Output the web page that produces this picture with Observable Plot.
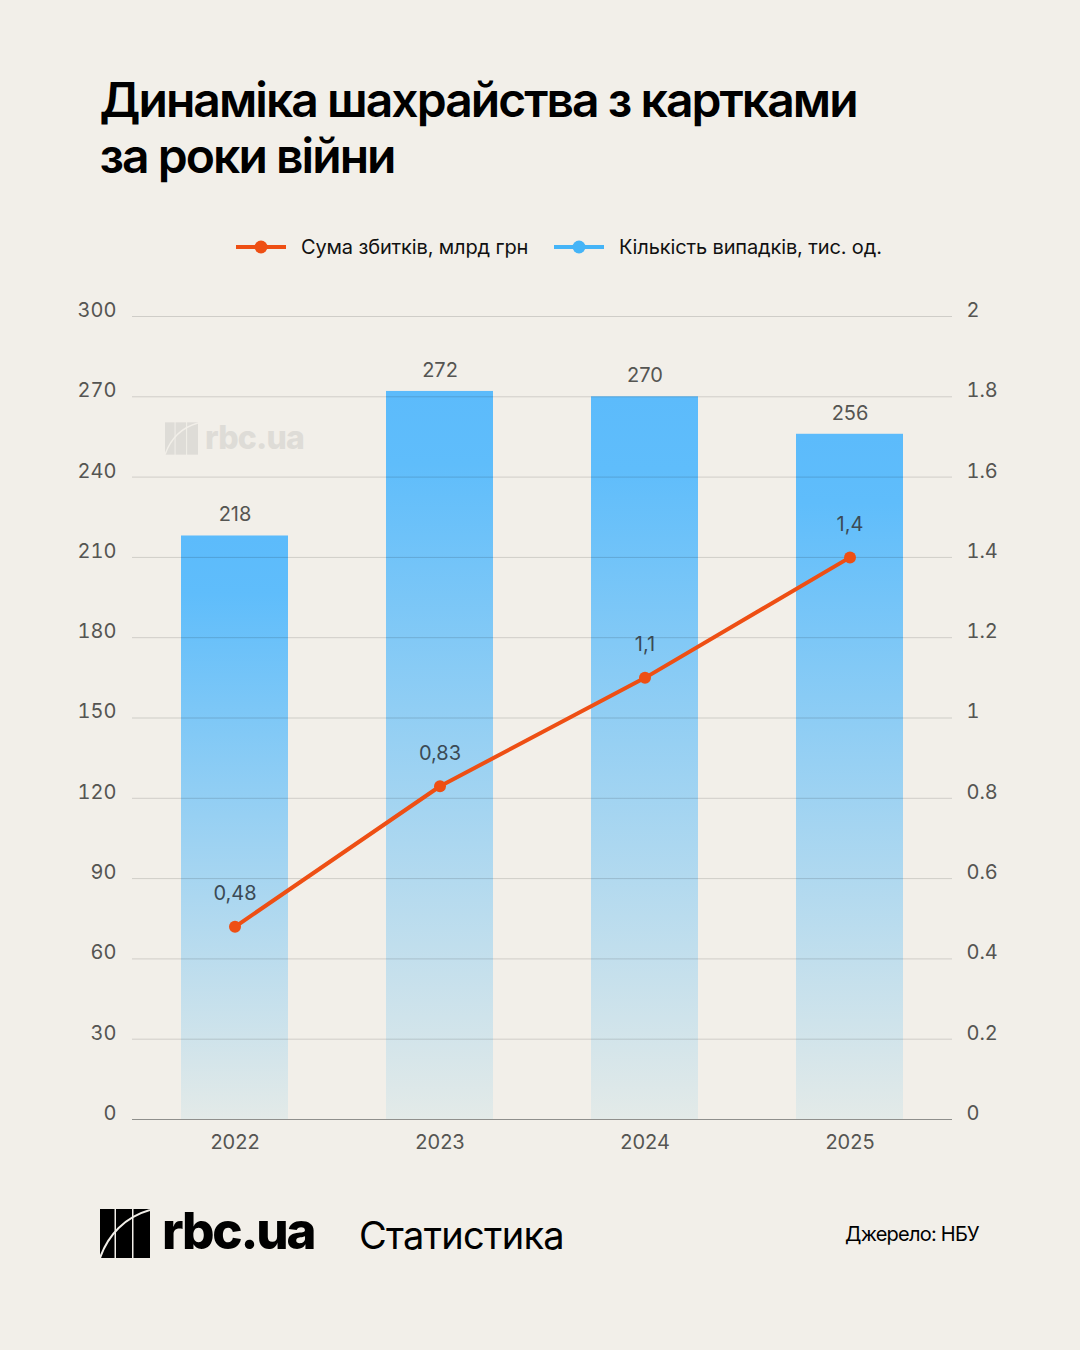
<!DOCTYPE html>
<html lang="uk"><head><meta charset="utf-8">
<script src="https://cdn.jsdelivr.net/npm/d3@7"></script>
<script src="https://cdn.jsdelivr.net/npm/@observablehq/plot@0.6"></script>
<style>
html,body{margin:0;padding:0;background:#f2efe9;}
body{width:1080px;height:1350px;position:relative;overflow:hidden;font-family:Inter,sans-serif;color:#000;}
.abs{position:absolute;white-space:nowrap;}
#title{left:99.5px;top:72px;font-size:48px;line-height:55.5px;font-weight:600;letter-spacing:-1.95px;}
.leg{font-size:20px;line-height:24px;top:235px;color:#111;letter-spacing:-.13px;}
#chart{position:absolute;left:0;top:270px;}
#brand{left:162px;top:1200px;font-size:51px;line-height:62px;font-weight:800;letter-spacing:-2.2px;}
#stat{left:359px;top:1211px;font-size:38px;line-height:48px;font-weight:400;letter-spacing:-.7px;}
#src{left:845px;top:1222px;font-size:20px;line-height:24px;letter-spacing:-.75px;}
#wm{left:205px;top:419px;font-size:32px;line-height:38px;font-weight:800;color:#dedcd7;letter-spacing:-.8px;}
</style></head><body>
<div class="abs" id="title">Динаміка шахрайства з картками<br>за роки війни</div>

<svg class="abs" style="left:236px;top:237px" width="50" height="20"><line x1="0" x2="50" y1="10" y2="10" stroke="#ee4f14" stroke-width="4"/><circle cx="25" cy="10" r="6.5" fill="#ee4f14"/></svg>
<div class="abs leg" style="left:301px">Сума збитків, млрд грн</div>
<svg class="abs" style="left:554px;top:237px" width="50" height="20"><line x1="0" x2="50" y1="10" y2="10" stroke="#45b4f7" stroke-width="4"/><circle cx="25" cy="10" r="6.5" fill="#45b4f7"/></svg>
<div class="abs leg" style="left:619px">Кількість випадків, тис. од.</div>

<div id="chart"></div>

<svg class="abs" style="left:165px;top:422px" width="33" height="33" viewBox="0 0 50 49"><g fill="#dedcd7"><rect x="0" width="14.5" height="49"/><rect x="16" width="16" height="49"/><rect x="33.5" width="16.5" height="49"/></g><path d="M0 49C8 26 25 8 50 1" fill="none" stroke="#f2efe9" stroke-width="2"/></svg>
<div class="abs" id="wm">rbc.ua</div>

<svg class="abs" style="left:100px;top:1209px" width="50" height="49" viewBox="0 0 50 49"><g fill="#000"><rect x="0" width="14.5" height="49"/><rect x="16" width="16" height="49"/><rect x="33.5" width="16.5" height="49"/></g><path d="M0 49C8 26 25 8 50 1" fill="none" stroke="#f2efe9" stroke-width="2"/></svg>
<div class="abs" id="brand">rbc.ua</div>
<div class="abs" id="stat">Статистика</div>
<div class="abs" id="src">Джерело: НБУ</div>

<script>
const years = ["2022","2023","2024","2025"];
const caseValues = [218,272,270,256];
const lossValues = [0.48,0.83,1.1,1.4];
const lossLabels = ["0,48","0,83","1,1","1,4"];
const leftTicks = [0,30,60,90,120,150,180,210,240,270,300];
const rightTickLabels = ["0","0.2","0.4","0.6","0.8","1","1.2","1.4","1.6","1.8","2"];
const rightMax = 2, leftMax = 300;
const toLeft = v => v * leftMax / rightMax;

const textColor = "#555552";
const table = years.map((year,i)=>({year,cases:caseValues[i],loss:toLeft(lossValues[i]),lossLabel:lossLabels[i]}));

const gradient = () => {
  const ns="http://www.w3.org/2000/svg";
  const defs=document.createElementNS(ns,"defs");
  defs.innerHTML='<linearGradient id="barFade" x1="0" x2="0" y1="0" y2="1"><stop offset="0" stop-color="#5cbbfb"/><stop offset="0.1" stop-color="#5fbdfb"/><stop offset="1" stop-color="#e3eae8"/></linearGradient>';
  return defs;
};

const plot = Plot.plot({
  width:1080, height:900,
  marginTop:46, marginBottom:51, marginLeft:132, marginRight:128,
  style:{background:"transparent",fontFamily:"Inter, sans-serif",fontSize:"20px",overflow:"visible"},
  x:{domain:years,paddingInner:0.48,paddingOuter:0.24,align:0.5,label:null},
  y:{domain:[0,leftMax],label:null},
  marks:[
    gradient,
    Plot.barY(table,{x:"year",y:"cases",fill:"url(#barFade)"}),
    Plot.ruleY(leftTicks.filter(d=>d>0),{stroke:"#000",strokeOpacity:0.14,strokeWidth:1}),
    Plot.ruleY([0],{stroke:"#8f8f8c",strokeWidth:1.2}),
    Plot.axisY(leftTicks,{anchor:"left",tickSize:0,tickPadding:16,dy:-6,color:textColor,fontSize:20,label:null,tickFormat:d=>String(d)}),
    Plot.axisY(leftTicks,{anchor:"right",tickSize:0,tickPadding:14,dy:-6,color:textColor,fontSize:20,label:null,tickFormat:d=>rightTickLabels[leftTicks.indexOf(d)]}),
    Plot.axisX({tickSize:0,tickPadding:15,color:textColor,fontSize:20,label:null}),
    Plot.text(table,{x:"year",y:"cases",text:d=>String(d.cases),dy:-21,fill:textColor,fontSize:20}),
    Plot.line(table,{x:"year",y:"loss",stroke:"#ee4f14",strokeWidth:4}),
    Plot.dot(table,{x:"year",y:"loss",r:6,fill:"#ee4f14"}),
    Plot.text(table,{x:"year",y:"loss",text:"lossLabel",dy:-33,fill:"#3b4a55",fontSize:20})
  ]
});
document.getElementById("chart").append(plot);
</script>
</body></html>
